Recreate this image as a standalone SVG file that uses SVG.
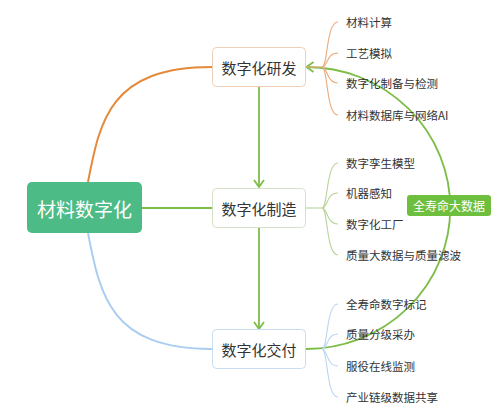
<svg xmlns="http://www.w3.org/2000/svg" width="496" height="412" viewBox="0 0 496 412">
<style>
text{font-family:"Noto Sans CJK SC","Noto Sans",sans-serif;}
.node{fill:#fff;stroke-width:1;}
.nt{font-size:15px;fill:#333;text-anchor:middle;dominant-baseline:central;}
.ct{font-size:11.5px;fill:#333;dominant-baseline:central;}
.g{fill:none;stroke:#7dbd47;stroke-width:1.8;}
.br{fill:none;stroke-width:1.1;}
</style>
<defs>
<marker id="arr" viewBox="-9 -6 11 12" markerWidth="11" markerHeight="12" refX="0" refY="0" orient="auto" markerUnits="userSpaceOnUse">
<path d="M-7,-5 L0,0 L-7,5" fill="none" stroke="#7dbd47" stroke-width="1.8"/>
</marker>
</defs>
<rect width="496" height="412" fill="#fff"/>
<g id="connectors">
<path d="M88,182 C100,120 110,67 212,67" fill="none" stroke="#e5893b" stroke-width="2"/>
<path d="M88,233 C100,295 110,349 212,349" fill="none" stroke="#a9cdf1" stroke-width="2"/>
<path class="g" d="M142,208 H212"/>
<path class="g" d="M259,87 V187" marker-end="url(#arr)"/>
<path class="g" d="M259,228 V329" marker-end="url(#arr)"/>
<path class="g" d="M306,349 A144,141 0 0 0 306.5,67" marker-end="url(#arr)"/>
<g class="br" stroke="#e9ab7c">
<path d="M306,67 H322"/>
<path d="M322,67 C328,67 326,22 338,22"/>
<path d="M322,67 C328,67 326,53 338,53"/>
<path d="M322,67 C328,67 326,83 338,83"/>
<path d="M322,67 C328,67 326,115 338,115"/>
</g>
<g class="br" stroke="#b9d39a">
<path d="M306,208 H322"/>
<path d="M322,208 C328,208 326,163 338,163"/>
<path d="M322,208 C328,208 326,193 338,193"/>
<path d="M322,208 C328,208 326,224 338,224"/>
<path d="M322,208 C328,208 326,255 338,255"/>
</g>
<g class="br" stroke="#bcd6f0">
<path d="M322,349 C328,349 326,304 338,304"/>
<path d="M322,349 C328,349 326,334 338,334"/>
<path d="M322,349 C328,349 326,366 338,366"/>
<path d="M322,349 C328,349 326,397 338,397"/>
</g>
</g>
<g id="root">
<rect x="27" y="182" width="115" height="51" rx="5" fill="#4cbb85"/>
<text x="84.5" y="208" font-size="19" fill="#fff" text-anchor="middle" dominant-baseline="central">材料数字化</text>
</g>
<g id="rd">
<rect class="node" x="212.5" y="47.5" width="93" height="39" rx="4" stroke="#efcfb5"/>
<text class="nt" x="259" y="67">数字化研发</text>
</g>
<g id="mfg">
<rect class="node" x="212.5" y="188.5" width="93" height="39" rx="4" stroke="#d5e1c6"/>
<text class="nt" x="259" y="208">数字化制造</text>
</g>
<g id="dlv">
<rect class="node" x="212.5" y="329.5" width="93" height="39" rx="4" stroke="#c9dcf0"/>
<text class="nt" x="259" y="349">数字化交付</text>
</g>
<g id="bigdata">
<rect x="407" y="195" width="84" height="21" rx="3" fill="#6fbf3f"/>
<text x="449" y="205.5" font-size="12" fill="#fff" text-anchor="middle" dominant-baseline="central">全寿命大数据</text>
</g>
<g id="rd-children">
<text class="ct" x="346" y="22">材料计算</text>
<text class="ct" x="346" y="53">工艺模拟</text>
<text class="ct" x="346" y="83">数字化制备与检测</text>
<text class="ct" x="346" y="115">材料数据库与网络AI</text>
</g>
<g id="mfg-children">
<text class="ct" x="346" y="163">数字孪生模型</text>
<text class="ct" x="346" y="193">机器感知</text>
<text class="ct" x="346" y="224">数字化工厂</text>
<text class="ct" x="346" y="255">质量大数据与质量滤波</text>
</g>
<g id="dlv-children">
<text class="ct" x="346" y="304">全寿命数字标记</text>
<text class="ct" x="346" y="334">质量分级采办</text>
<text class="ct" x="346" y="366">服役在线监测</text>
<text class="ct" x="346" y="397">产业链级数据共享</text>
</g>
</svg>
